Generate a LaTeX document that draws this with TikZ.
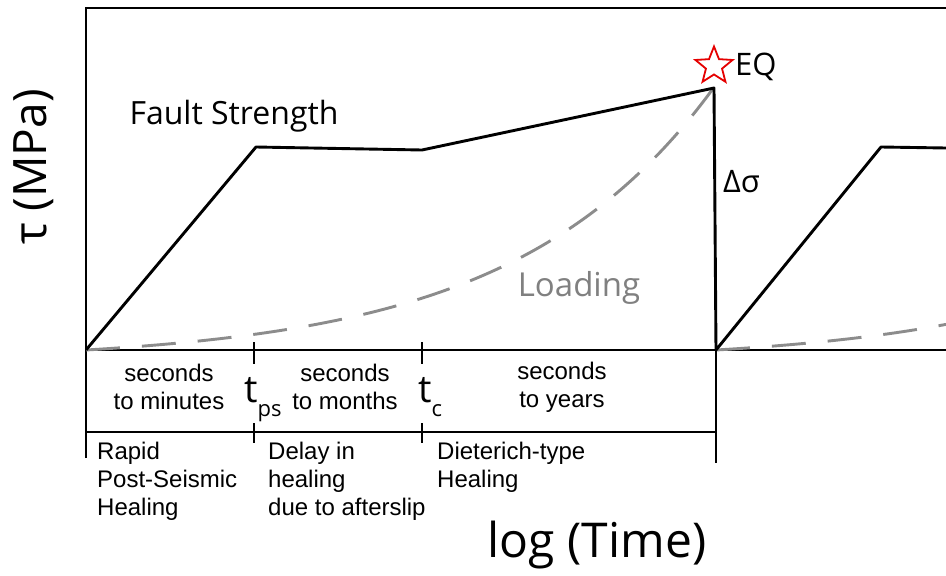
\documentclass[tikz,border=0pt]{standalone}
\usepackage{fontspec}
\setmainfont{Open Sans}
\newfontfamily\arialfont{Liberation Sans}
\usetikzlibrary{calc,shapes.geometric}

\tikzset{
  strength/.style={black,line width=2.9pt,line join=round},
  loading/.style={black!45,line width=2.9pt,dash pattern=on 34pt off 22pt},
  frame/.style={black,line width=2.9pt},
  timescale/.style={font=\arialfont\fontsize{24}{28}\selectfont,align=center},
  phase/.style={font=\arialfont\fontsize{24}{28}\selectfont,align=left,anchor=north west,inner sep=0pt}
}
\newcommand{\lowsub}[1]{\raisebox{-0.38em}{\fontsize{22}{22}\selectfont #1}}

\begin{document}
\begin{tikzpicture}[x=1pt,y=-1pt]
\useasboundingbox (0,0) rectangle (946,576);
\fill[white] (0,0) rectangle (946,576);
% frame and axes
\coordinate (top) at (86,8);
\coordinate (o) at (86,350);
\coordinate (foot) at (86,458);
\draw[frame] (foot) -- (top) -- (946,8);
\draw[frame] (o) -- (946,350);
\draw[frame] (86,432) -- (716,432);
% ticks
\draw[frame] (254,342) -- (254,364);
\draw[frame] (254,423) -- (254,443);
\draw[frame] (422,342) -- (422,364);
\draw[frame] (422,423) -- (422,443);
% loading
\draw[loading] plot[domain=86:714,samples=80,smooth] (\x,{350-11.85*(exp(0.005*(\x-86))-1)});
\draw[loading] plot[domain=716:946,samples=40,smooth] (\x,{350-11.85*(exp(0.005*(\x-716))-1)});
% fault strength
\coordinate (ps) at (256,147);
\coordinate (c) at (422,150);
\coordinate (peak) at (714,88);
\coordinate (drop) at (716,350);
\coordinate (heal) at (881,147);
\draw[strength] (o) -- (ps) -- (c) -- (peak) -- (drop) -- (heal) -- (946,148);
\draw[strength] (drop) -- (716,463);
% labels
\node[star,star points=5,star point ratio=2.3,draw=red!90!black,line width=1.8pt,minimum size=39pt,inner sep=0pt] (eq) at (714,66) {};
\node[font=\fontsize{31}{31}\selectfont,anchor=west,inner sep=0pt] (eqlabel) at (735,67) {EQ};
\node[font=\fontsize{31}{31}\selectfont,anchor=west,inner sep=0pt] (dsigma) at (723,182) {Δσ};
\node[font=\fontsize{32}{32}\selectfont] (fs) at (234,116) {Fault Strength};
\node[font=\fontsize{33}{33}\selectfont,text=black!50] (ld) at (579,288) {Loading};
\node[font=\fontsize{46}{46}\selectfont,rotate=90] (tau) at (34,167) {τ (MPa)};
\node[font=\fontsize{48}{48}\selectfont] (time) at (597,545) {log (Time)};
%scales
\node[timescale] (s1) at (169,387) {seconds\\to minutes};
\node[timescale] (s2) at (345,387) {seconds\\to months};
\node[timescale] (s3) at (562,387) {seconds\\to years};
\node[font=\fontsize{38}{38}\selectfont,inner sep=0pt,anchor=base west] (tps) at (244,402) {t\lowsub{ps}};
\node[font=\fontsize{38}{38}\selectfont,inner sep=0pt,anchor=base west] (tc) at (418,402) {t\lowsub{c}};
%phases
\node[phase] (p1) at (97,442) {Rapid\\Post-Seismic\\Healing};
\node[phase] (p2) at (268,442) {Delay in\\healing\\due to afterslip};
\node[phase] (p3) at (437,442) {Dieterich-type\\Healing};
\end{tikzpicture}
\end{document}
